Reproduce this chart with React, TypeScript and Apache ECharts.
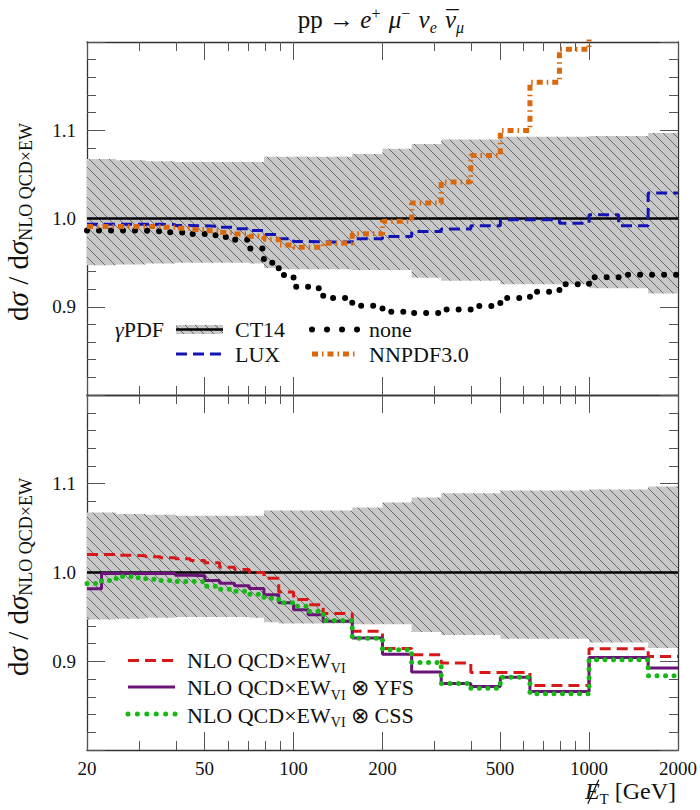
import React, { useEffect, useRef } from 'react';
import * as echarts from 'echarts';

// Missing-E_T histogram bin edges [GeV]
const binEdges = [
  20, 22.4, 25.1, 28.2, 31.6, 35.5, 39.8, 44.7, 50.1, 56.2, 63.1, 70.8, 79.4, 89.1,
  100, 112, 126, 141, 158, 200, 251, 316, 398, 501, 631, 794, 1000, 1259, 1585, 2000,
];

// CT14 photon-PDF uncertainty band, upper / lower edge per bin
const ct14BandUp = [
  1.0675, 1.0675, 1.066, 1.066, 1.065, 1.065, 1.064, 1.064, 1.064, 1.064, 1.064, 1.064,
  1.07, 1.07, 1.07, 1.07, 1.07, 1.07, 1.0732, 1.079, 1.0845, 1.0894, 1.0894,
  1.0925, 1.0925, 1.0925, 1.0936, 1.0936, 1.097,
];
const ct14BandLo = [
  0.947, 0.947, 0.948, 0.948, 0.949, 0.949, 0.95, 0.95, 0.95, 0.95, 0.95, 0.949,
  0.944, 0.9425, 0.9425, 0.9425, 0.9425, 0.9425, 0.9417, 0.9417, 0.933, 0.9296, 0.9296,
  0.9254, 0.9254, 0.9254, 0.921, 0.921, 0.915,
];
const ct14Ratio = 1.0;

// Upper panel: photon-PDF variations
const noneRatio = [
  0.9864, 0.9864, 0.9864, 0.9862, 0.9855, 0.9845, 0.984, 0.9823, 0.981, 0.979, 0.976, 0.966,
  0.95, 0.936, 0.9227, 0.921, 0.91, 0.91, 0.901, 0.8943, 0.893, 0.897, 0.9008,
  0.91, 0.917, 0.9254, 0.9334, 0.9364, 0.9364,
];
const luxRatio = [
  0.9936, 0.9936, 0.9936, 0.9935, 0.9934, 0.993, 0.992, 0.9917, 0.9912, 0.99, 0.9885, 0.9865,
  0.982, 0.977, 0.9739, 0.9735, 0.9735, 0.9735, 0.977, 0.9796, 0.9852, 0.988, 0.9917,
  0.9985, 0.9985, 0.9947, 1.0042, 0.9917, 1.0289,
];
const nnpdfRatio = [
  0.991, 0.991, 0.991, 0.991, 0.991, 0.99, 0.989, 0.9875, 0.986, 0.984, 0.9825, 0.98,
  0.9765, 0.97, 0.9675, 0.9675, 0.972, 0.972, 0.9826, 0.997, 1.0175, 1.0414, 1.0715,
  1.0997, 1.1545, 1.1917, 1.25, 1.25, 1.25,
];

// Lower panel: virtual EW approximation and its QED-resummed variants
const ewviRatio = [
  1.0203, 1.0203, 1.0195, 1.019, 1.0177, 1.0165, 1.0155, 1.0136, 1.011, 1.006, 1.0034, 1.0,
  0.9936, 0.978, 0.9695, 0.9638, 0.9537, 0.9537, 0.9337, 0.9145, 0.9073, 0.898, 0.8874,
  0.8874, 0.8727, 0.8727, 0.9141, 0.9141, 0.9054,
];
const ewviYfsRatio = [
  0.9816, 0.999, 0.999, 0.999, 0.999, 0.999, 0.9968, 0.9962, 0.991, 0.988, 0.985, 0.982,
  0.975, 0.966, 0.958, 0.9525, 0.945, 0.945, 0.9262, 0.908, 0.888, 0.875, 0.8716,
  0.882, 0.866, 0.866, 0.9043, 0.9043, 0.8923,
];
const ewviCssRatio = [
  0.9876, 0.991, 0.9955, 0.994, 0.9925, 0.991, 0.99, 0.9895, 0.9845, 0.981, 0.979, 0.9755,
  0.971, 0.966, 0.962, 0.9563, 0.946, 0.946, 0.926, 0.913, 0.8987, 0.875, 0.8697,
  0.882, 0.8633, 0.8633, 0.9017, 0.9017, 0.8836,
];

// Axis ticks
const xTickLabels = [20, 50, 100, 200, 500, 1000, 2000];
const xMajorTicks = [20, 50, 100, 200, 500, 1000, 2000];
const xMinorTicks = [30, 40, 60, 70, 80, 90, 300, 400, 600, 700, 800, 900];
const yTickLabels = [0.9, 1.0, 1.1];

const FONT = 'Liberation Serif';
const INK = '#111';
const lx = (e: number) => Math.log10(e);

const measureCtx = document.createElement('canvas').getContext('2d') as CanvasRenderingContext2D;
function textWidth(t: string, size: number, italic?: boolean) {
  measureCtx.font = `${italic ? 'italic ' : ''}${size}px "${FONT}"`;
  return measureCtx.measureText(t).width;
}

type Run = { t: string; size: number; italic?: boolean; dy?: number; dx?: number; overlay?: string; slash?: boolean };

// Lays out a sequence of text runs along one baseline (used for math-like labels)
function runsToTexts(runs: Run[], x: number, baseline: number, align: 'left' | 'center' | 'right') {
  const widths = runs.map((r) => textWidth(r.t, r.size, r.italic));
  const total = widths.reduce((a, b) => a + b, 0) + runs.reduce((a, r) => a + (r.dx || 0), 0);
  let cx = align === 'left' ? x : align === 'center' ? x - total / 2 : x - total;
  const out: any[] = [];
  runs.forEach((r, i) => {
    cx += r.dx || 0;
    const base = baseline + (r.dy || 0);
    const y = base - 0.34 * r.size;
    const font = {
      fontSize: r.size,
      fontFamily: FONT,
      fontStyle: r.italic ? 'italic' : 'normal',
      fill: INK,
      verticalAlign: 'middle',
      textVerticalAlign: 'middle',
    };
    out.push({
      type: 'text', x: cx, y, silent: true,
      style: { text: r.t, align: 'left', textAlign: 'left', ...font },
    });
    if (r.overlay) {
      out.push({
        type: 'text', x: cx + widths[i] / 2, y, silent: true,
        style: { text: r.overlay, align: 'center', textAlign: 'center', ...font },
      });
    }
    if (r.slash) {
      out.push({
        type: 'line', silent: true,
        shape: {
          x1: cx + widths[i] * 0.95, y1: base - 0.8 * r.size,
          x2: cx + widths[i] * 0.2, y2: base + 0.2 * r.size,
        },
        style: { stroke: INK, lineWidth: 1.2 },
      });
    }
    cx += widths[i];
  });
  return out;
}

function hatchPattern() {
  const s = 10;
  const c = document.createElement('canvas');
  c.width = s;
  c.height = s;
  const ctx = c.getContext('2d') as CanvasRenderingContext2D;
  ctx.fillStyle = '#c8c8c8';
  ctx.fillRect(0, 0, s, s);
  ctx.strokeStyle = '#666';
  ctx.lineWidth = 1;
  for (const k of [-s, 0, s]) {
    ctx.beginPath();
    ctx.moveTo(k, 0);
    ctx.lineTo(k + s, s);
    ctx.stroke();
  }
  return { image: c, repeat: 'repeat', imageWidth: s, imageHeight: s };
}

function stepData(vals: number[]) {
  const d = vals.map((v, i) => [lx(binEdges[i]), v]);
  d.push([lx(binEdges[binEdges.length - 1]), vals[vals.length - 1]]);
  return d;
}

const STYLE: Record<string, any> = {
  ct14: { color: '#000', width: 2.6, type: 'solid' },
  none: { color: '#000', width: 6, type: [0.01, 12], cap: 'round' },
  lux: { color: '#1414b4', width: 3, type: [11, 6] },
  nnpdf: { color: '#d9690c', width: 5, type: [6, 4, 1.5, 4] },
  ewvi: { color: '#d81818', width: 3, type: [11, 6] },
  yfs: { color: '#6a1478', width: 3, type: 'solid' },
  css: { color: '#14b914', width: 5, type: [0.01, 8.5], cap: 'round' },
};

const grids = [
  { left: 87, top: 42, width: 591, height: 353 },
  { left: 87, top: 395, width: 591, height: 355 },
];
const FRAME = { color: '#333', width: 1.3 };
const TICK = { color: '#555', width: 1 };

function buildOption() {
  const xAxis: any[] = [];
  const yAxis: any[] = [];
  grids.forEach((_, g) => {
    const base = {
      type: 'value', gridIndex: g, min: lx(20), max: lx(2000),
      splitLine: { show: false },
    };
    const major = { show: true, inside: true, length: 18, customValues: xMajorTicks.map(lx), lineStyle: TICK };
    const minor = { show: true, inside: true, length: 9, customValues: xMinorTicks.map(lx), lineStyle: TICK };
    xAxis.push({
      ...base, position: 'bottom',
      axisLine: { show: true, onZero: false, lineStyle: FRAME },
      axisTick: major,
      axisLabel: g === 1
        ? {
            show: true, customValues: xTickLabels.map(lx), margin: 9,
            formatter: (v: number) => String(Math.round(Math.pow(10, v))),
            fontFamily: FONT, fontSize: 19, color: INK,
          }
        : { show: false },
    });
    xAxis.push({ ...base, position: 'bottom', axisLine: { show: false, onZero: false }, axisTick: minor, axisLabel: { show: false } });
    xAxis.push({ ...base, position: 'top', axisLine: { show: true, onZero: false, lineStyle: FRAME }, axisTick: major, axisLabel: { show: false } });
    xAxis.push({ ...base, position: 'top', axisLine: { show: false, onZero: false }, axisTick: minor, axisLabel: { show: false } });

    for (const pos of ['left', 'right']) {
      yAxis.push({
        type: 'value', gridIndex: g, position: pos, min: 0.8, max: 1.2, interval: 0.1,
        axisLine: { show: true, onZero: false, lineStyle: FRAME },
        axisTick: { show: true, inside: true, length: 18, lineStyle: TICK },
        minorTick: { show: true, splitNumber: 5, length: 9, lineStyle: TICK },
        splitLine: { show: false },
        minorSplitLine: { show: false },
        axisLabel: pos === 'left'
          ? {
              show: true, customValues: yTickLabels, margin: 11,
              formatter: (v: number) => v.toFixed(1),
              fontFamily: FONT, fontSize: 19, color: INK,
            }
          : { show: false },
      });
    }
  });

  const band = (g: number) => ({
    type: 'custom',
    xAxisIndex: g * 4,
    yAxisIndex: g * 2,
    silent: true,
    z: 1,
    data: [[lx(binEdges[0]), ct14Ratio]],
    renderItem: (_p: any, api: any) => {
      const pts: number[][] = [];
      for (let i = 0; i < ct14BandUp.length; i++) {
        pts.push(api.coord([lx(binEdges[i]), ct14BandUp[i]]));
        pts.push(api.coord([lx(binEdges[i + 1]), ct14BandUp[i]]));
      }
      for (let i = ct14BandLo.length - 1; i >= 0; i--) {
        pts.push(api.coord([lx(binEdges[i + 1]), ct14BandLo[i]]));
        pts.push(api.coord([lx(binEdges[i]), ct14BandLo[i]]));
      }
      return { type: 'polygon', shape: { points: pts }, style: { fill: hatchPattern(), stroke: null } };
    },
  });

  const line = (g: number, name: string, data: number[][], style: any, z: number, step = true) => ({
    type: 'line', name, xAxisIndex: g * 4, yAxisIndex: g * 2,
    data, step: step ? 'end' : false, showSymbol: false, symbol: 'none',
    silent: true, z, clip: true,
    lineStyle: style,
  });

  const ct14Line = [[lx(binEdges[0]), ct14Ratio], [lx(binEdges[binEdges.length - 1]), ct14Ratio]];

  const series = [
    band(0),
    line(0, 'CT14', ct14Line, STYLE.ct14, 2, false),
    line(0, 'none', stepData(noneRatio), STYLE.none, 3),
    line(0, 'LUX', stepData(luxRatio), STYLE.lux, 4),
    line(0, 'NNPDF3.0', stepData(nnpdfRatio), STYLE.nnpdf, 5),
    band(1),
    line(1, 'CT14 ', ct14Line, STYLE.ct14, 2, false),
    line(1, 'NLO QCD×EW_VI', stepData(ewviRatio), STYLE.ewvi, 3),
    line(1, 'NLO QCD×EW_VI ⊗ YFS', stepData(ewviYfsRatio), STYLE.yfs, 4),
    line(1, 'NLO QCD×EW_VI ⊗ CSS', stepData(ewviCssRatio), STYLE.css, 5),
  ];

  const seg = (x1: number, x2: number, y: number, s: any, dash?: number[]) => ({
    type: 'line', silent: true, z: 10,
    shape: { x1, y1: y, x2, y2: y },
    style: {
      stroke: s.color, lineWidth: s.width,
      lineDash: dash || (Array.isArray(s.type) ? s.type : null),
      lineCap: s.cap || 'butt',
    },
  });

  const yTitle = (cy: number) => ({
    type: 'group', x: 28, y: cy, rotation: Math.PI / 2, silent: true,
    children: runsToTexts(
      [
        { t: 'd', size: 29 },
        { t: 'σ', size: 29, italic: true },
        { t: ' / ', size: 29 },
        { t: 'd', size: 29 },
        { t: 'σ', size: 29, italic: true },
        { t: 'NLO QCD×EW', size: 18, dy: 4.5 },
      ],
      0, 0, 'center',
    ),
  });

  const legendRuns = (suffix: string): Run[] => {
    const r: Run[] = [
      { t: 'NLO QCD×EW', size: 22 },
      { t: 'VI', size: 14, dy: 5 },
    ];
    if (suffix) r.push({ t: ' ⊗ ' + suffix, size: 22 });
    return r;
  };

  const elements: any[] = [
    // title
    ...runsToTexts(
      [
        { t: 'pp', size: 25 },
        { t: ' → ', size: 25 },
        { t: 'e', size: 25, italic: true },
        { t: '+', size: 16, dy: -9 },
        { t: ' ', size: 25, dx: 2 },
        { t: 'μ', size: 25, italic: true },
        { t: '−', size: 16, dy: -9 },
        { t: ' ', size: 25, dx: 2 },
        { t: 'ν', size: 25, italic: true },
        { t: 'e', size: 16, italic: true, dy: 5 },
        { t: ' ', size: 25, dx: 2 },
        { t: 'ν', size: 25, italic: true, overlay: '¯' },
        { t: 'μ', size: 16, italic: true, dy: 5 },
      ],
      381, 28, 'center',
    ),
    // x-axis title
    ...runsToTexts(
      [
        { t: 'E', size: 24, italic: true, slash: true },
        { t: 'T', size: 15, dy: 5 },
        { t: ' [GeV]', size: 24 },
      ],
      676, 799, 'right',
    ),
    yTitle(222),
    yTitle(577),

    // upper legend
    ...runsToTexts([{ t: 'γ', size: 22, italic: true }, { t: 'PDF', size: 22 }], 115, 336.5, 'left'),
    {
      type: 'rect', silent: true, z: 10,
      shape: { x: 176, y: 325, width: 47, height: 9 },
      style: { fill: hatchPattern(), stroke: null },
    },
    seg(176, 223, 329.5, STYLE.ct14),
    ...runsToTexts([{ t: 'CT14', size: 22 }], 235, 336.5, 'left'),
    seg(176, 223, 354, STYLE.lux),
    ...runsToTexts([{ t: 'LUX', size: 22 }], 235, 361.5, 'left'),
    seg(312, 357.5, 329.5, STYLE.none, [0.01, 15]),
    ...runsToTexts([{ t: 'none', size: 22 }], 369, 336.5, 'left'),
    seg(312, 357, 354, STYLE.nnpdf),
    ...runsToTexts([{ t: 'NNPDF3.0', size: 22 }], 369, 361.5, 'left'),

    // lower legend
    seg(128, 175, 660.5, STYLE.ewvi),
    ...runsToTexts(legendRuns(''), 187, 668, 'left'),
    seg(128, 175, 687, STYLE.yfs),
    ...runsToTexts(legendRuns('YFS'), 187, 695, 'left'),
    seg(128, 175.5, 714, STYLE.css, [0.01, 9.4]),
    ...runsToTexts(legendRuns('CSS'), 187, 722.5, 'left'),
  ];

  return {
    animation: false,
    backgroundColor: '#ffffff',
    grid: grids.map((g) => ({ ...g, containLabel: false })),
    xAxis,
    yAxis,
    series,
    graphic: { elements },
  };
}

export default function App() {
  const ref = useRef<HTMLDivElement>(null);
  useEffect(() => {
    if (!ref.current) return;
    const chart = echarts.init(ref.current, null, { renderer: 'svg' });
    chart.setOption(buildOption() as any);
    return () => chart.dispose();
  }, []);
  return (
    <div
      ref={ref}
      style={{ position: 'fixed', left: 0, top: 0, width: 700, height: 810, background: '#fff' }}
    />
  );
}
